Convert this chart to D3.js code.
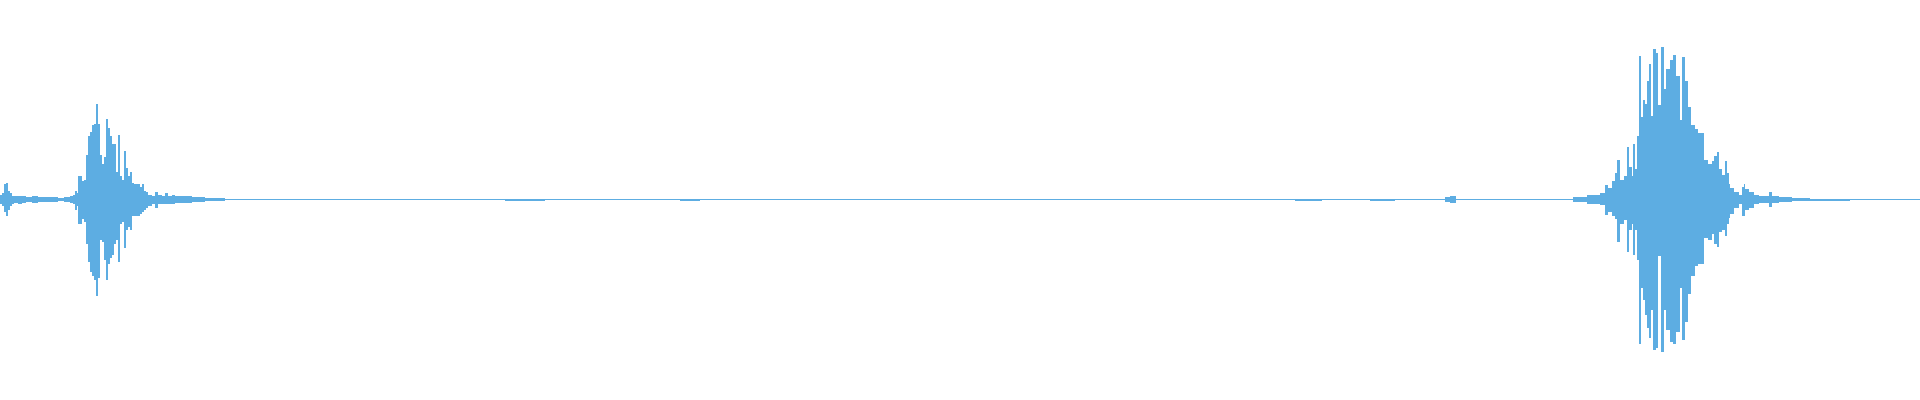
<!DOCTYPE html>
<html>
<head>
<meta charset="utf-8">
<script src="https://cdn.jsdelivr.net/npm/d3@7"></script>
<style>
  html, body { margin: 0; padding: 0; background: #ffffff; }
  svg { display: block; }
</style>
</head>
<body>
<svg id="chart" width="1920" height="400"></svg>
<script>
// Peak frames (start of each peak bin, in frame units)
const frames = [
  0,2,4,6,8,10,12,14,18,22,
  26,32,38,46,52,58,64,70,73,75,
  77,78,80,82,84,86,88,90,92,94,
  96,98,100,102,104,106,108,110,112,114,
  116,118,120,122,124,126,128,130,132,134,
  136,138,140,142,144,146,148,152,155,158,
  162,165,168,172,175,184,192,205,225,280,
  340,400,460,505,520,545,600,640,680,700,
  760,820,880,940,1000,1060,1120,1180,1240,1295,
  1322,1370,1395,1445,1450,1456,1500,1560,1573,1587,
  1600,1605,1608,1612,1615,1617,1620,1624,1627,1629,
  1632,1633,1635,1637,1639,1641,1643,1645,1647,1649,
  1651,1653,1656,1658,1661,1664,1666,1670,1673,1676,
  1680,1682,1685,1688,1691,1695,1698,1704,1708,1712,
  1714,1717,1719,1722,1725,1727,1729,1730,1734,1739,
  1742,1744,1745,1749,1754,1759,1764,1769,1772,1779,
  1792,1810,1850,1880,1900
];
const totalFrames = 1920;

// Positive peak per bin (fraction of full scale)
const peakMax = [
  0.031,0.038,0.094,0.106,0.056,0.038,0.025,0.019,0.025,0.019,
  0.016,0.019,0.013,0.013,0.016,0.009,0.013,0.019,0.031,0.056,
  0.038,0.144,0.144,0.113,0.125,0.281,0.400,0.425,0.463,0.475,
  0.594,0.475,0.281,0.219,0.263,0.506,0.450,0.400,0.350,0.344,
  0.175,0.406,0.144,0.125,0.306,0.194,0.144,0.175,0.106,0.100,
  0.100,0.094,0.081,0.100,0.056,0.044,0.031,0.025,0.050,0.031,
  0.025,0.038,0.025,0.028,0.019,0.019,0.013,0.009,0.005,0.004,
  0.004,0.004,0.004,0.005,0.005,0.004,0.004,0.004,0.005,0.004,
  0.004,0.004,0.004,0.004,0.004,0.004,0.004,0.004,0.004,0.005,
  0.004,0.005,0.004,0.016,0.019,0.004,0.004,0.006,0.016,0.028,
  0.038,0.088,0.075,0.113,0.163,0.250,0.125,0.150,0.331,0.206,
  0.144,0.344,0.188,0.394,0.900,0.513,0.625,0.600,0.738,0.850,
  0.519,0.938,0.913,0.588,0.956,0.688,0.813,0.875,0.906,0.775,
  0.500,0.888,0.738,0.581,0.463,0.438,0.413,0.250,0.225,0.238,
  0.275,0.300,0.188,0.156,0.238,0.163,0.100,0.069,0.050,0.028,
  0.081,0.100,0.063,0.050,0.028,0.019,0.022,0.044,0.019,0.013,
  0.009,0.006,0.005,0.005,0.005
];

// Negative peak per bin (fraction of full scale)
const peakMin = [
  -0.031,-0.038,-0.081,-0.106,-0.063,-0.038,-0.025,-0.019,-0.025,-0.019,
  -0.016,-0.019,-0.013,-0.013,-0.016,-0.009,-0.013,-0.019,-0.031,-0.063,
  -0.038,-0.150,-0.150,-0.119,-0.138,-0.281,-0.388,-0.450,-0.475,-0.500,
  -0.600,-0.488,-0.250,-0.263,-0.375,-0.500,-0.400,-0.363,-0.344,-0.281,
  -0.250,-0.388,-0.150,-0.138,-0.306,-0.188,-0.169,-0.188,-0.106,-0.100,
  -0.100,-0.100,-0.088,-0.081,-0.063,-0.050,-0.038,-0.031,-0.050,-0.031,
  -0.025,-0.031,-0.025,-0.025,-0.019,-0.019,-0.013,-0.009,-0.006,-0.006,
  -0.006,-0.006,-0.006,-0.007,-0.007,-0.006,-0.006,-0.006,-0.007,-0.006,
  -0.006,-0.006,-0.006,-0.006,-0.006,-0.006,-0.006,-0.006,-0.006,-0.007,
  -0.006,-0.007,-0.006,-0.016,-0.019,-0.006,-0.006,-0.006,-0.016,-0.028,
  -0.034,-0.094,-0.075,-0.106,-0.119,-0.263,-0.150,-0.125,-0.331,-0.188,
  -0.150,-0.344,-0.188,-0.375,-0.906,-0.550,-0.625,-0.719,-0.800,-0.863,
  -0.688,-0.938,-0.925,-0.356,-0.956,-0.688,-0.813,-0.888,-0.906,-0.825,
  -0.550,-0.875,-0.763,-0.588,-0.475,-0.413,-0.400,-0.238,-0.250,-0.213,
  -0.275,-0.294,-0.206,-0.188,-0.231,-0.150,-0.113,-0.088,-0.056,-0.031,
  -0.100,-0.100,-0.063,-0.050,-0.028,-0.019,-0.022,-0.044,-0.019,-0.013,
  -0.009,-0.007,-0.006,-0.006,-0.006
];

const waveColor = "#5DADE2";

const width = 1920, height = 400;
const svg = d3.select("#chart");

const x = d3.scaleLinear().domain([0, totalFrames]).range([0, width]);
const y = d3.scaleLinear().domain([-1, 1]).range([359.5, 39.5]);

const n = Math.min(frames.length, peakMax.length, peakMin.length);
const bins = [];
for (let i = 0; i < n; i++) {
  bins.push({
    f0: frames[i],
    f1: i + 1 < n ? frames[i + 1] : totalFrames,
    hi: peakMax[i],
    lo: peakMin[i]
  });
}

svg.append("g")
  .attr("shape-rendering", "crispEdges")
  .selectAll("rect")
  .data(bins)
  .join("rect")
  .attr("x", d => x(d.f0))
  .attr("width", d => Math.max(1, x(d.f1) - x(d.f0)))
  .attr("y", d => y(d.hi))
  .attr("height", d => Math.max(1, y(d.lo) - y(d.hi)))
  .attr("fill", waveColor);
</script>
</body>
</html>
